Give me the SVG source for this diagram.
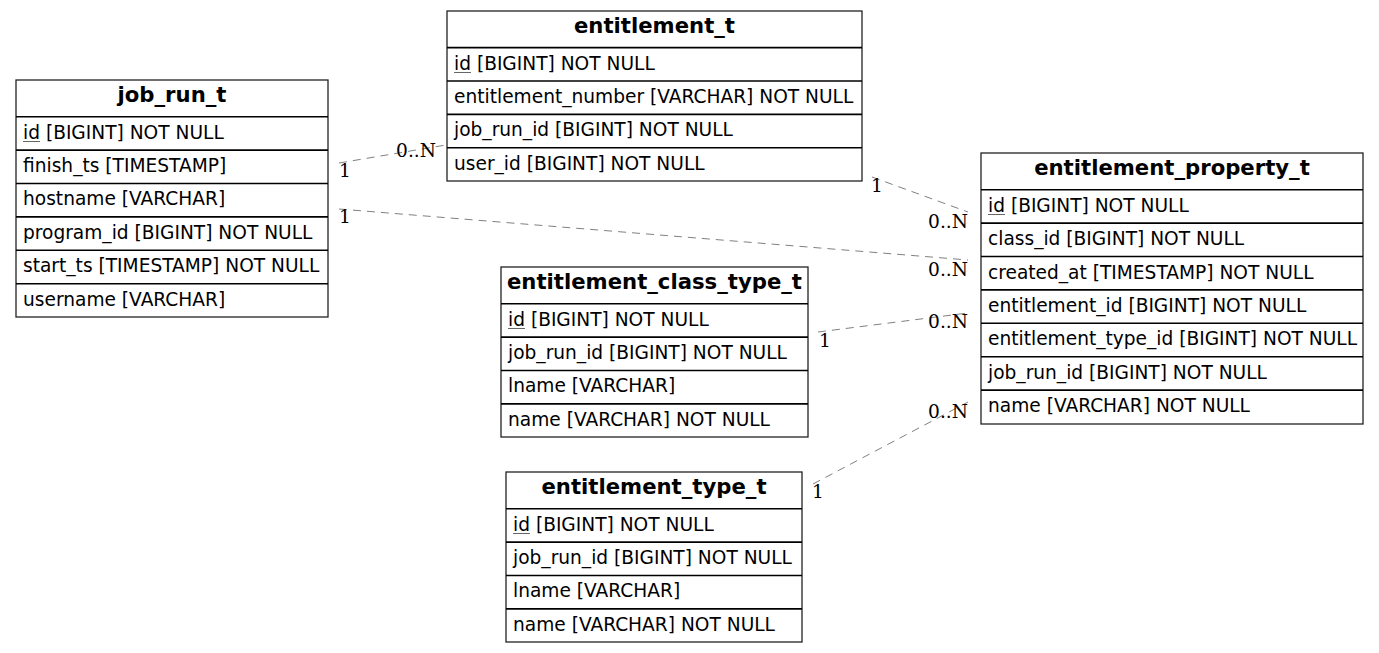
<svg xmlns="http://www.w3.org/2000/svg" width="1379" height="653" viewBox="0 0 1379 653">
<style>
.box{fill:#fff;stroke:#222;stroke-width:1.3}
.sep{stroke:#000;stroke-width:1.6}
.hd{font-family:"DejaVu Sans",sans-serif;font-weight:bold;font-size:21.2px;fill:#000;text-anchor:middle}
.row{font-family:"DejaVu Sans",sans-serif;font-size:18.6px;fill:#000}
.ul{stroke:#666;stroke-width:1}
.edge{fill:none;stroke:#808080;stroke-width:1;stroke-dasharray:8,6}
.lbl{font-family:"DejaVu Serif",serif;font-size:18.6px;fill:#000}
.end{text-anchor:end}
</style>
<rect width="1379" height="653" fill="#fff"/>
<g id="connectors">
<line class="edge" x1="339" y1="163" x2="446" y2="145"/>
<line class="edge" x1="339" y1="209" x2="968" y2="260"/>
<line class="edge" x1="872" y1="177" x2="968" y2="212"/>
<line class="edge" x1="818" y1="332" x2="968" y2="313"/>
<line class="edge" x1="813" y1="484" x2="968" y2="402"/>
<text class="lbl" x="339" y="177">1</text>
<text class="lbl end" x="436" y="157">0..N</text>
<text class="lbl" x="339" y="223">1</text>
<text class="lbl end" x="968" y="276">0..N</text>
<text class="lbl" x="871" y="192">1</text>
<text class="lbl end" x="968" y="228">0..N</text>
<text class="lbl" x="819" y="347">1</text>
<text class="lbl end" x="968" y="328">0..N</text>
<text class="lbl" x="812" y="498">1</text>
<text class="lbl end" x="968" y="418">0..N</text>
</g>
<g id="job_run_t">
<rect class="box" x="16" y="80" width="312" height="237"/>
<line class="sep" x1="16" y1="116.7" x2="328" y2="116.7"/>
<line class="sep" x1="16" y1="150.1" x2="328" y2="150.1"/>
<line class="sep" x1="16" y1="183.5" x2="328" y2="183.5"/>
<line class="sep" x1="16" y1="216.9" x2="328" y2="216.9"/>
<line class="sep" x1="16" y1="250.3" x2="328" y2="250.3"/>
<line class="sep" x1="16" y1="283.7" x2="328" y2="283.7"/>
<text class="hd" x="172" y="102">job_run_t</text>
<text class="row" x="23" y="139">id [BIGINT] NOT NULL</text>
<line class="ul" x1="23" y1="141.5" x2="40" y2="141.5"/>
<text class="row" x="23" y="172">finish_ts [TIMESTAMP]</text>
<text class="row" x="23" y="205">hostname [VARCHAR]</text>
<text class="row" x="23" y="239">program_id [BIGINT] NOT NULL</text>
<text class="row" x="23" y="272">start_ts [TIMESTAMP] NOT NULL</text>
<text class="row" x="23" y="306">username [VARCHAR]</text>
</g>
<g id="entitlement_t">
<rect class="box" x="447" y="11" width="415" height="170"/>
<line class="sep" x1="447" y1="47.6" x2="862" y2="47.6"/>
<line class="sep" x1="447" y1="81" x2="862" y2="81"/>
<line class="sep" x1="447" y1="114.4" x2="862" y2="114.4"/>
<line class="sep" x1="447" y1="147.8" x2="862" y2="147.8"/>
<text class="hd" x="654.5" y="33">entitlement_t</text>
<text class="row" x="454" y="70">id [BIGINT] NOT NULL</text>
<line class="ul" x1="454" y1="72.5" x2="471" y2="72.5"/>
<text class="row" x="454" y="103">entitlement_number [VARCHAR] NOT NULL</text>
<text class="row" x="454" y="136">job_run_id [BIGINT] NOT NULL</text>
<text class="row" x="454" y="170">user_id [BIGINT] NOT NULL</text>
</g>
<g id="entitlement_property_t">
<rect class="box" x="981" y="153" width="382" height="271"/>
<line class="sep" x1="981" y1="189.7" x2="1363" y2="189.7"/>
<line class="sep" x1="981" y1="223.1" x2="1363" y2="223.1"/>
<line class="sep" x1="981" y1="256.5" x2="1363" y2="256.5"/>
<line class="sep" x1="981" y1="289.9" x2="1363" y2="289.9"/>
<line class="sep" x1="981" y1="323.3" x2="1363" y2="323.3"/>
<line class="sep" x1="981" y1="356.7" x2="1363" y2="356.7"/>
<line class="sep" x1="981" y1="390.1" x2="1363" y2="390.1"/>
<text class="hd" x="1172" y="175">entitlement_property_t</text>
<text class="row" x="988" y="212">id [BIGINT] NOT NULL</text>
<line class="ul" x1="988" y1="214.5" x2="1005" y2="214.5"/>
<text class="row" x="988" y="245">class_id [BIGINT] NOT NULL</text>
<text class="row" x="988" y="279">created_at [TIMESTAMP] NOT NULL</text>
<text class="row" x="988" y="312">entitlement_id [BIGINT] NOT NULL</text>
<text class="row" x="988" y="345">entitlement_type_id [BIGINT] NOT NULL</text>
<text class="row" x="988" y="379">job_run_id [BIGINT] NOT NULL</text>
<text class="row" x="988" y="412">name [VARCHAR] NOT NULL</text>
</g>
<g id="entitlement_class_type_t">
<rect class="box" x="501" y="267" width="307" height="170"/>
<line class="sep" x1="501" y1="303.7" x2="808" y2="303.7"/>
<line class="sep" x1="501" y1="337.1" x2="808" y2="337.1"/>
<line class="sep" x1="501" y1="370.5" x2="808" y2="370.5"/>
<line class="sep" x1="501" y1="403.9" x2="808" y2="403.9"/>
<text class="hd" x="654.5" y="289">entitlement_class_type_t</text>
<text class="row" x="508" y="326">id [BIGINT] NOT NULL</text>
<line class="ul" x1="508" y1="328.5" x2="525" y2="328.5"/>
<text class="row" x="508" y="359">job_run_id [BIGINT] NOT NULL</text>
<text class="row" x="508" y="392">lname [VARCHAR]</text>
<text class="row" x="508" y="426">name [VARCHAR] NOT NULL</text>
</g>
<g id="entitlement_type_t">
<rect class="box" x="506" y="472" width="296" height="170"/>
<line class="sep" x1="506" y1="508.7" x2="802" y2="508.7"/>
<line class="sep" x1="506" y1="542.1" x2="802" y2="542.1"/>
<line class="sep" x1="506" y1="575.5" x2="802" y2="575.5"/>
<line class="sep" x1="506" y1="608.9" x2="802" y2="608.9"/>
<text class="hd" x="654" y="494">entitlement_type_t</text>
<text class="row" x="513" y="531">id [BIGINT] NOT NULL</text>
<line class="ul" x1="513" y1="533.5" x2="530" y2="533.5"/>
<text class="row" x="513" y="564">job_run_id [BIGINT] NOT NULL</text>
<text class="row" x="513" y="597">lname [VARCHAR]</text>
<text class="row" x="513" y="631">name [VARCHAR] NOT NULL</text>
</g>
</svg>
